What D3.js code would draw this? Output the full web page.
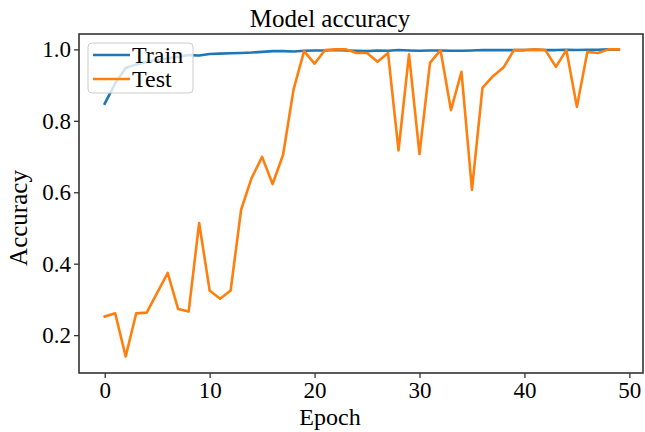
<!DOCTYPE html>
<html><head><meta charset="utf-8">
<script src="https://cdn.jsdelivr.net/npm/d3@7"></script>
<style>body{margin:0;background:#fff}svg{display:block}text{font-family:"Liberation Serif","Times New Roman",serif;fill:#000}</style>
</head><body><svg id="c" width="645" height="432"></svg>
<script>
const epochs = d3.range(0, 50);
const trainAcc = [0.848,0.905,0.948,0.958,0.965,0.970,0.975,0.979,0.984,0.983,0.987,0.988,0.989,0.990,0.991,0.993,0.995,0.995,0.994,0.996,0.997,0.997,0.998,0.997,0.996,0.995,0.997,0.996,0.998,0.997,0.996,0.997,0.997,0.996,0.996,0.997,0.998,0.998,0.998,0.998,0.998,0.999,0.998,0.998,0.999,0.998,0.999,0.999,1.000,0.999];
const testAcc = [0.252,0.261,0.140,0.261,0.263,0.318,0.374,0.273,0.266,0.514,0.325,0.302,0.325,0.551,0.640,0.699,0.623,0.705,0.888,0.995,0.960,0.998,1.000,1.000,0.990,0.990,0.965,0.990,0.717,0.986,0.707,0.962,0.998,0.830,0.937,0.607,0.892,0.925,0.949,0.998,0.998,1.000,0.998,0.951,0.998,0.839,0.993,0.990,1.000,1.000];
const xTicks = [0,10,20,30,40,50];
const yTicks = [0.2,0.4,0.6,0.8,1.0];
const seriesNames = ["Train","Test"];
const colors = ["#1f77b4","#ff7f0e"];

const svg = d3.select("#c");
const L = 79, R = 643, T = 34, B = 373;
const x = d3.scaleLinear().domain([-2.45, 51.3]).range([L, R]);
const y = d3.scaleLinear().domain([0.094, 1.043]).range([B, T]);

const line = d3.line().x((d,i)=>x(epochs[i])).y(d=>y(d));
const g = svg.append("g");
[trainAcc, testAcc].forEach((s, k) => {
  g.append("path").datum(s).attr("d", line).attr("fill","none")
   .attr("stroke", colors[k]).attr("stroke-width", 2.6).attr("stroke-linejoin","round").attr("stroke-linecap","square");
});

// frame
svg.append("rect").attr("x",L).attr("y",T).attr("width",R-L).attr("height",B-T)
  .attr("fill","none").attr("stroke","#333").attr("stroke-width",1.6);

// axes
const xa = svg.append("g").attr("transform",`translate(0,${B})`)
  .call(d3.axisBottom(x).tickValues(xTicks).tickFormat(d3.format("d")).tickSize(5).tickPadding(4));
const ya = svg.append("g").attr("transform",`translate(${L},0)`)
  .call(d3.axisLeft(y).tickValues(yTicks).tickFormat(d3.format(".1f")).tickSize(5).tickPadding(3));
[xa, ya].forEach(a => {
  a.select(".domain").remove();
  a.selectAll("line").attr("stroke","#333").attr("stroke-width",1.3);
  a.selectAll("text").style("font-family",'"Liberation Serif",serif').style("font-size","23px").attr("fill","#000");
});

// title & labels
svg.append("text").attr("x",330).attr("y",27).attr("text-anchor","middle").style("font-size","25px").text("Model accuracy");
svg.append("text").attr("x",330).attr("y",425).attr("text-anchor","middle").style("font-size","24px").text("Epoch");
svg.append("text").attr("transform","translate(27,218) rotate(-90)").attr("text-anchor","middle").style("font-size","25px").text("Accuracy");

// legend
const lg = svg.append("g");
lg.append("rect").attr("x",88).attr("y",43).attr("width",105).attr("height",50).attr("rx",4)
  .attr("fill","#fff").attr("fill-opacity",0.8).attr("stroke","#ccc").attr("stroke-width",1);
seriesNames.forEach((n,i) => {
  const yy = 55 + i*24;
  lg.append("line").attr("x1",93).attr("x2",130).attr("y1",yy).attr("y2",yy).attr("stroke",colors[i]).attr("stroke-width",2.6);
  lg.append("text").attr("x",132).attr("y",yy+8).style("font-size","24px").text(n);
});
</script></body></html>
